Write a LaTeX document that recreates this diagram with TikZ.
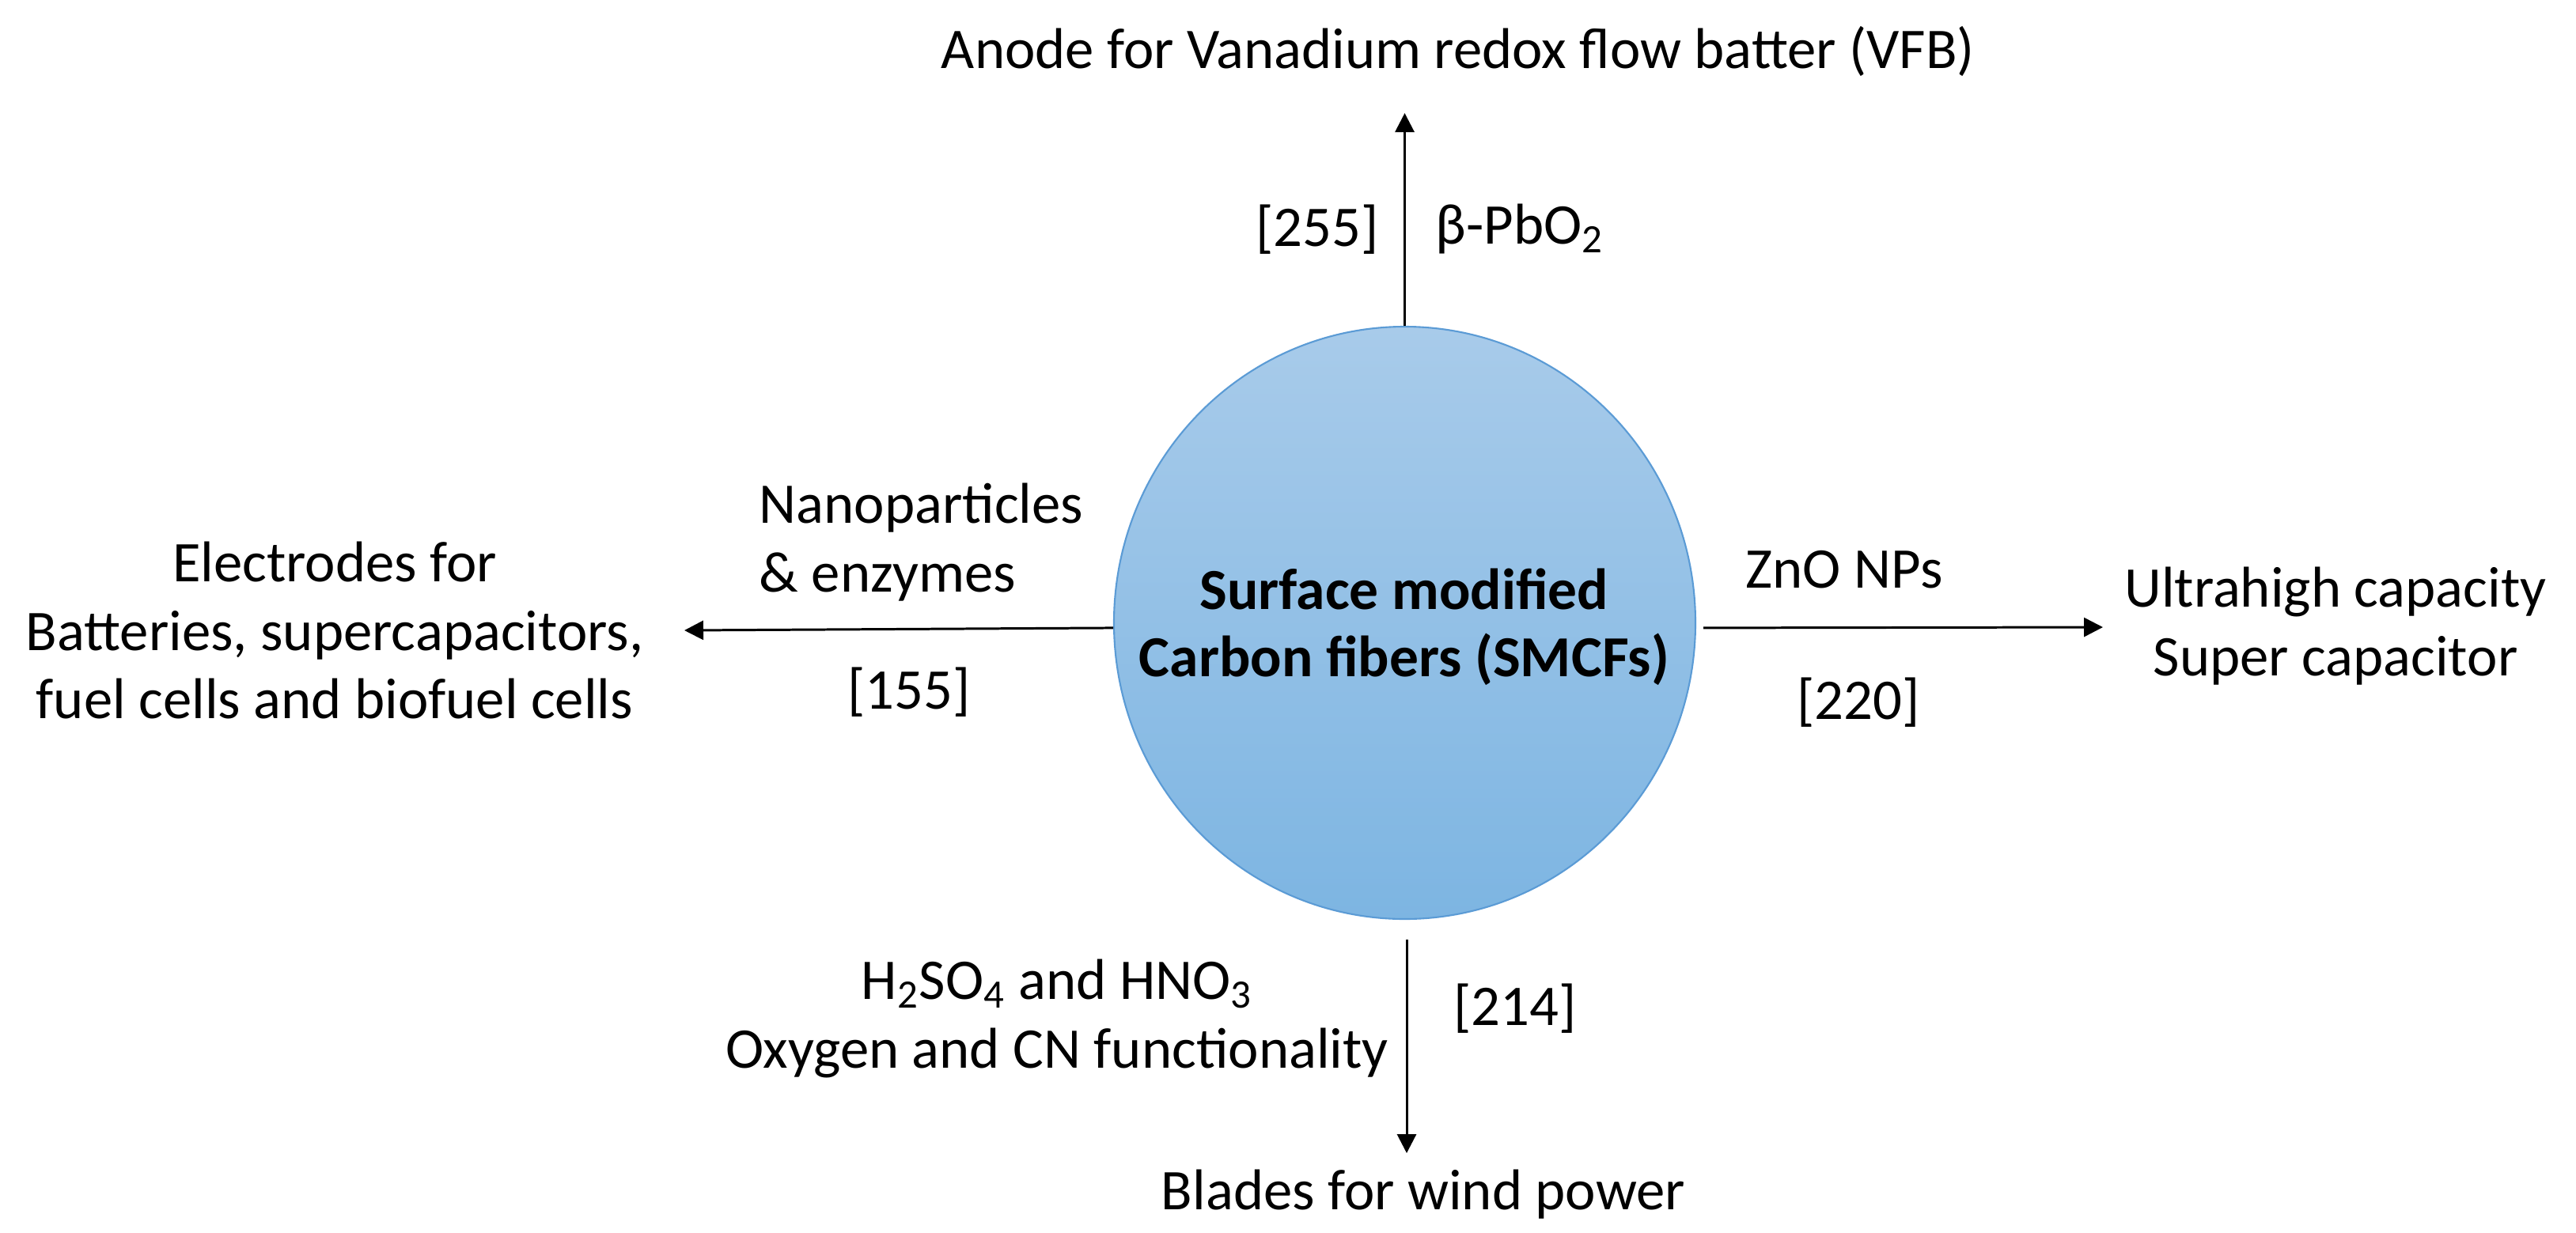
\documentclass[tikz,border=0pt]{standalone}
\usepackage{fontspec}
\setmainfont{Carlito}
\usepackage{tikz}
\usetikzlibrary{arrows.meta, positioning, shapes}

\definecolor{cftop}{HTML}{A8CBEA}
\definecolor{cfbottom}{HTML}{7DB5E2}
\definecolor{cfline}{HTML}{5B9BD5}

\begin{document}
\begin{tikzpicture}[>={Triangle[length=0.24cm,width=0.24cm]}]

		\tikzstyle{label text}=[font=\fontsize{20.7}{24.75}\selectfont,align=center,inner sep=0pt]
		\tikzstyle{hub}=[ellipse,draw=cfline,line width=0.6pt,top color=cftop,bottom color=cfbottom,
			minimum width=7.35cm,minimum height=7.49cm,inner sep=0pt]
		\tikzstyle{post}=[->,line width=0.85pt,black]

		\useasboundingbox (0,0) rectangle (32.56,-15.58);

		\node [hub] (SMCF) at (17.755,-7.875) {};
		\node [label text, font=\fontsize{20.9}{24.2}\selectfont\bfseries] (SMCFtext) at (17.75,-7.93)
			{Surface modified\\Carbon fibers (SMCFs)};

		% targets
		\node [label text] (VFB) at (18.43,-0.65) {Anode for Vanadium redox flow batter (VFB)};
		\node [label text] (ELEC) at (4.23,-7.97) {Electrodes for\\Batteries, supercapacitors,\\fuel cells and biofuel cells};
		\node [label text] (CAP) at (29.52,-7.92) {Ultrahigh capacity\\Super capacitor};
		\node [label text] (WIND) at (17.99,-15.10) {Blades for wind power};

		% arrow ends
		\coordinate (VFBtip) at (17.755,-1.43);
		\coordinate (ELECtip) at (8.65,-7.97);
		\coordinate (CAPtip) at (26.58,-7.93);
		\coordinate (WINDtip) at (17.78,-14.58);

		\draw [post] (SMCF.north) -- (VFBtip);
		\draw [post] (SMCF.181) -- (ELECtip);
		\draw [post, shorten <=0.09cm] (SMCF.-1) -- (CAPtip);
		\draw [post, shorten <=0.25cm] (SMCF.south -| WINDtip) -- (WINDtip);

		% arrow labels
		\node [label text] (ref255) at (16.65,-2.90) {[255]};
		\node [label text] (PbO) at (19.21,-2.90) {β-PbO\textsubscript{2}};
		\node [label text, align=left, anchor=west] (NP) at (9.59,-6.86) {Nanoparticles\\\&\ enzymes};
		\node [label text] (ref155) at (11.49,-8.75) {[155]};
		\node [label text] (ZnO) at (23.31,-7.20) {ZnO NPs};
		\node [label text] (ref220) at (23.49,-8.88) {[220]};
		\node [label text] (ACID) at (13.36,-12.88) {H\textsubscript{2}SO\textsubscript{4} and HNO\textsubscript{3}\\Oxygen and CN functionality};
		\node [label text] (ref214) at (19.15,-12.75) {[214]};
	\end{tikzpicture}
\end{document}
